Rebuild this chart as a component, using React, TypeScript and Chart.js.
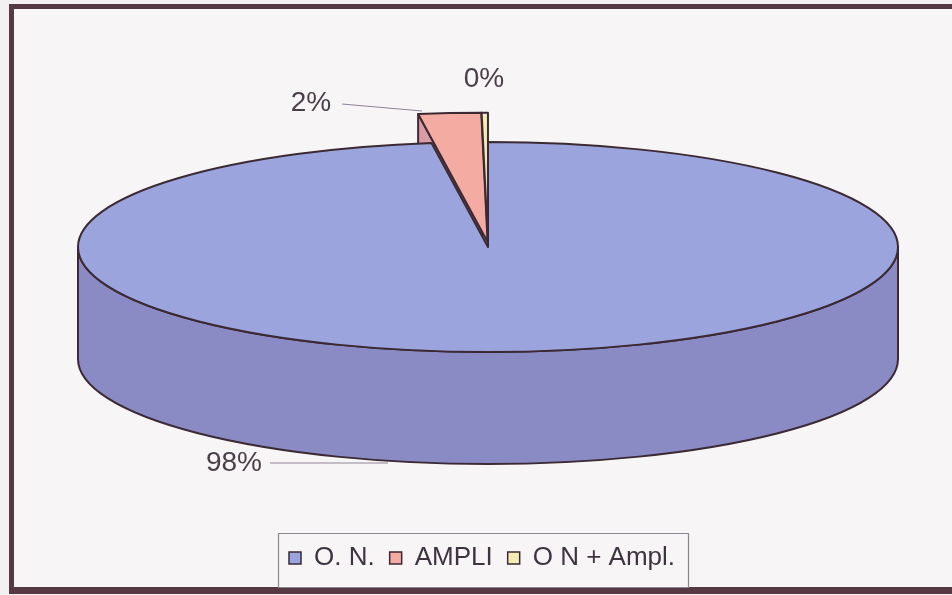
import React, { useEffect, useRef } from "react";
import { Chart, registerables } from "chart.js";

Chart.register(...registerables);

// ---- data ----
const categories = ["O. N.", "AMPLI", "O N + Ampl."];
const values = [97.8, 2.0, 0.2];

// ---- style ----
const topColors = ["#9ba4dc", "#f4aba1", "#f3ecb4"];
const sideColors = ["#8a8ac4", "#d99ba4", "#d8ce94"];
const explodeLift = [0, 5, 5]; // px the exploded slices are raised
const explodeScale = [1, 1.23, 1.23]; // perspective growth of exploded slices
const OUTLINE = "#3b2933";
const TEXT = "#4a3f48";
const FONT = "'Liberation Sans', Arial, sans-serif";

// 3D projection of the pie (page pixels)
const GEO = { X: 488, Y: 247, RX: 410, RY: 105, DEPTH: 112 };

// label placement: text centre and optional leader line
const labelLayout = [
  { x: 234, y: 463, line: [270, 463, 388, 463] as number[] | null },
  { x: 311, y: 103, line: [342, 104, 422, 111] as number[] | null },
  { x: 484, y: 79, line: null as number[] | null },
];

type T3 = { sx: number; sy: number; ox: number; oy: number; R: number };

function arcGeom(arc: any, i: number) {
  const p = arc.getProps(["startAngle", "endAngle"], true);
  const mid = (p.startAngle + p.endAngle) / 2;
  const lift = explodeLift[i] || 0;
  const k = explodeScale[i] || 1;
  return {
    s: p.startAngle,
    e: p.endAngle,
    mid,
    k,
    cx: GEO.X + Math.cos(mid) * lift,
    cy: GEO.Y + Math.sin(mid) * lift,
    rx: GEO.RX * k,
    ry: GEO.RY * k,
  };
}

function setSideStyle(ctx: CanvasRenderingContext2D, color: string) {
  ctx.fillStyle = color;
  ctx.strokeStyle = OUTLINE;
  ctx.lineWidth = 2;
  ctx.lineJoin = "round";
}

function drawRadialFaces(ctx: CanvasRenderingContext2D, g: any, color: string) {
  const D = GEO.DEPTH;
  setSideStyle(ctx, color);
  const face = (a: number) => {
    const px = g.cx + g.rx * Math.cos(a);
    const py = g.cy + g.ry * Math.sin(a);
    ctx.beginPath();
    ctx.moveTo(g.cx, g.cy);
    ctx.lineTo(px, py);
    ctx.lineTo(px, py + D);
    ctx.lineTo(g.cx, g.cy + D);
    ctx.closePath();
    ctx.fill();
    ctx.stroke();
  };
  if (Math.cos(g.s) < -1e-6) face(g.s);
  if (Math.cos(g.e) > 1e-6) face(g.e);
}

function drawCurvedFace(ctx: CanvasRenderingContext2D, g: any, color: string) {
  const D = GEO.DEPTH;
  setSideStyle(ctx, color);
  for (const k of [-1, 0, 1]) {
    const lo = Math.max(g.s, k * 2 * Math.PI);
    const hi = Math.min(g.e, k * 2 * Math.PI + Math.PI);
    if (hi > lo) {
      ctx.beginPath();
      ctx.ellipse(g.cx, g.cy, g.rx, g.ry, 0, lo, hi, false);
      ctx.ellipse(g.cx, g.cy + D, g.rx, g.ry, 0, hi, lo, true);
      ctx.closePath();
      ctx.fill();
      ctx.stroke();
    }
  }
}

const pie3d = {
  id: "pie3d",
  beforeDatasetsDraw(chart: any) {
    const meta = chart.getDatasetMeta(0);
    const arcs = meta.data;
    if (!arcs.length) return;
    const a0 = arcs[0];
    const R = a0.outerRadius;
    const T: T3 = { sx: GEO.RX / R, sy: GEO.RY / R, ox: a0.x, oy: a0.y, R };
    const ctx: CanvasRenderingContext2D = chart.ctx;
    const geoms = arcs.map((a: any, i: number) => arcGeom(a, i));

    // side walls: radial faces (back) first, then the curved front wall
    ctx.save();
    geoms.forEach((g: any, i: number) => drawRadialFaces(ctx, g, sideColors[i % sideColors.length]));
    geoms.forEach((g: any, i: number) => drawCurvedFace(ctx, g, sideColors[i % sideColors.length]));
    ctx.restore();

    // top faces (library arcs, projected) + outlines
    arcs.forEach((arc: any, i: number) => {
      const g = geoms[i];
      ctx.save();
      ctx.translate(g.cx, g.cy);
      ctx.scale(T.sx * g.k, T.sy * g.k);
      ctx.translate(-T.ox, -T.oy);
      arc.draw(ctx);
      ctx.beginPath();
      ctx.moveTo(T.ox, T.oy);
      ctx.arc(T.ox, T.oy, R, g.s, g.e);
      ctx.closePath();
      ctx.restore();
      ctx.strokeStyle = OUTLINE;
      ctx.lineWidth = 2;
      ctx.lineJoin = "round";
      ctx.stroke();
    });

    // percentage labels
    const total = values.reduce((s, v) => s + v, 0);
    ctx.save();
    ctx.font = `28px ${FONT}`;
    ctx.fillStyle = TEXT;
    ctx.textAlign = "center";
    ctx.textBaseline = "middle";
    values.forEach((v, i) => {
      const L = labelLayout[i];
      ctx.fillText(`${Math.round((v / total) * 100)}%`, L.x, L.y);
      if (L.line) {
        ctx.beginPath();
        ctx.moveTo(L.line[0], L.line[1]);
        ctx.lineTo(L.line[2], L.line[3]);
        ctx.strokeStyle = "#8f8498";
        ctx.lineWidth = 1.2;
        ctx.stroke();
      }
    });
    ctx.restore();
    return false;
  },
  afterDraw(chart: any) {
    const hb = chart.legend?.legendHitBoxes;
    if (!hb || !hb.length) return;
    const ctx: CanvasRenderingContext2D = chart.ctx;
    const l = Math.min(...hb.map((h: any) => h.left)) - 11;
    const r = Math.max(...hb.map((h: any) => h.left + h.width)) + 13;
    const t = hb[0].top - 12;
    const b = hb[0].top + hb[0].height + 16;
    ctx.save();
    ctx.strokeStyle = "#8d8590";
    ctx.lineWidth = 1.2;
    ctx.strokeRect(Math.round(l) + 0.5, Math.round(t) + 0.5, Math.round(r - l), Math.round(b - t));
    ctx.restore();
  },
};

export default function App() {
  const ref = useRef<HTMLCanvasElement>(null);
  useEffect(() => {
    const canvas = ref.current!;
    const base: any = (Chart as any).overrides.pie ?? (Chart as any).overrides.doughnut;
    const chart = new Chart(canvas, {
      type: "pie",
      data: {
        labels: categories,
        datasets: [
          {
            data: values,
            backgroundColor: topColors,
            borderColor: OUTLINE,
            borderWidth: 0,
            clip: false as any,
          } as any,
        ],
      },
      options: {
        responsive: false,
        animation: false,
        events: [],
        layout: { padding: { left: 12, right: 0, top: 10, bottom: 14 } },
        plugins: {
          tooltip: { enabled: false },
          legend: {
            position: "bottom",
            labels: {
              font: { family: FONT, size: 26 },
              color: "#3e3440",
              boxWidth: 12,
              boxHeight: 12,
              padding: 15,
              generateLabels: (c: any) =>
                base.plugins.legend.labels
                  .generateLabels(c)
                  .map((it: any) => ({ ...it, lineWidth: 1.5, strokeStyle: OUTLINE })),
            },
          },
        },
      },
      plugins: [pie3d as any],
    });
    return () => chart.destroy();
  }, []);
  return (
    <div
      style={{
        position: "fixed",
        left: 0,
        top: 0,
        width: 952,
        height: 595,
        background: "#f3f0f2",
        overflow: "hidden",
      }}
    >
      <div
        style={{
          position: "absolute",
          left: 9,
          top: 4,
          width: 960,
          height: 578,
          border: "5px solid #563942",
          borderBottomWidth: 7,
          background: "#f8f5f7",
        }}
      />
      <canvas ref={ref} width={952} height={595} style={{ position: "absolute", left: 0, top: 0 }} />
    </div>
  );
}
